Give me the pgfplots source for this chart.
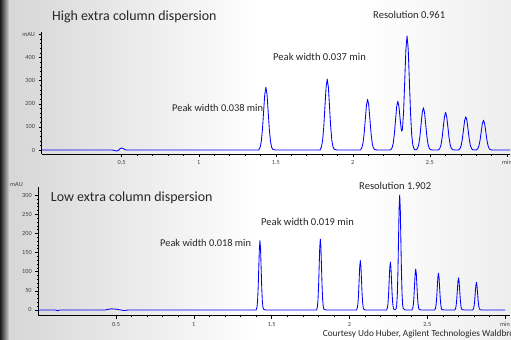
\documentclass[border=0pt]{standalone}
\usepackage{pgfplots}
\pgfplotsset{compat=1.18}
\usepackage{fontspec}
\setmainfont{Carlito}
\begin{document}
\begin{tikzpicture}[x=1bp,y=1bp]
\useasboundingbox (0,0) rectangle (511,339);
\fill[white] (0,0) rectangle (511,339);
\shade[left color=black!16,right color=white] (8,0) rectangle (260,339);
\shade[left color=white,right color=black!7] (360,0) rectangle (511,339);
\shade[left color=black!90,right color=black!18] (0,0) rectangle (9,339);

\pgfplotsset{
  chrom/.style={
    scale only axis,
    axis lines=left,
    axis line style={-,black,line width=0.6pt},
    tick align=outside,
    major tick length=3bp,
    minor tick length=1.6bp,
    every tick/.style={black,line width=0.4pt},
    tick label style={font=\fontsize{6.3}{7}\selectfont,text=black!75},
    /pgf/number format/assume math mode=true,
    xtick={0.5,1,1.5,2,2.5,3},
    xticklabels={0.5,1,1.5,2,2.5,min},
    minor x tick num=4,
    clip=false,
  },
  sig/.style={blue,line width=0.85pt,line join=round},
}

% ---------------- top panel ----------------
\begin{axis}[chrom,
  at={(41.5bp,185bp)},anchor=south west,
  width=468.5bp,height=122bp,
  xmin=-0.02,xmax=3.02,ymin=-17,ymax=510,
  ytick={0,100,200,300,400,500},
  yticklabels={0,100,200,300,400,mAU},
  minor y tick num=4,
]
\addplot[sig] coordinates {
(-0.02,0) (0.20,0.5) (0.44,0) (0.46,-3) (0.47,-4) (0.48,-1) (0.49,6) (0.50,9) (0.51,7) (0.52,2) (0.535,0) (0.8,0.5) (1.1,0) (1.391,0)
(1.391,3.0) (1.3985,11.9) (1.406,36.7) (1.4135,88.0) (1.421,164.4) (1.4285,239.2) (1.436,271) (1.4435,239.2) (1.451,164.4) (1.4585,88.0) (1.466,36.7) (1.4735,11.9) (1.481,3.0)
(1.5,0) (1.789,0)
(1.789,3.4) (1.7965,13.5) (1.804,41.5) (1.8115,99.7) (1.819,186.2) (1.8265,270.9) (1.834,307) (1.8415,270.9) (1.849,186.2) (1.8565,99.7) (1.864,41.5) (1.8715,13.5) (1.879,3.4)
(1.9,0) (2.045,0)
(2.051,2.4) (2.0585,9.6) (2.066,29.6) (2.0735,71.1) (2.081,132.8) (2.0885,193.3) (2.096,219) (2.1035,193.3) (2.111,132.8) (2.1185,71.1) (2.126,29.6) (2.1335,9.6) (2.141,2.4)
(2.16,0) (2.24,0)
(2.247,2.3) (2.2545,9.3) (2.262,28.5) (2.2695,68.5) (2.277,128.0) (2.2845,186.2) (2.292,211.2) (2.2995,187.3) (2.307,133.5) (2.3145,88) (2.318,82) (2.322,90) (2.3295,165) (2.337,301.3) (2.3445,435.6) (2.352,493) (2.3595,435.1) (2.367,299.0) (2.3745,160.1) (2.382,66.7) (2.3895,21.6) (2.397,5.5) (2.4045,1.1)
(2.413,2.0) (2.4205,8.0) (2.428,24.8) (2.4355,59.4) (2.443,111.0) (2.4505,161.5) (2.458,183) (2.4655,161.5) (2.473,111.0) (2.4805,59.4) (2.488,24.8) (2.4955,8.0) (2.503,2.0)
(2.52,0) (2.55,0)
(2.557,1.8) (2.5645,7.2) (2.572,22.1) (2.5795,52.9) (2.587,98.9) (2.5945,143.8) (2.602,163) (2.6095,143.8) (2.617,98.9) (2.6245,52.9) (2.632,22.1) (2.6395,7.2) (2.647,1.8)
(2.665,0) (2.682,0)
(2.688,1.6) (2.6955,6.3) (2.703,19.5) (2.7105,46.8) (2.718,87.3) (2.7255,127.1) (2.733,144) (2.7405,127.1) (2.748,87.3) (2.7555,46.8) (2.763,19.5) (2.7705,6.3) (2.778,1.6)
(2.795,0)
(2.803,1.4) (2.8105,5.7) (2.818,17.5) (2.8255,41.9) (2.833,78.2) (2.8405,113.8) (2.848,129) (2.8555,113.8) (2.863,78.2) (2.8705,41.9) (2.878,17.5) (2.8855,5.7) (2.893,1.4)
(2.91,0) (3.02,0)
};
\end{axis}

% ---------------- bottom panel ----------------
\begin{axis}[chrom,
  at={(38.2bp,23.3bp)},anchor=south west,
  width=471.5bp,height=128.3bp,
  xmin=0,xmax=3.03,ymin=-15,ymax=320,
  ytick={0,50,100,150,200,250,300},
  minor y tick num=4,
]
\addplot[sig] coordinates {
(0,0) (0.11,0) (0.125,-2) (0.14,0) (0.43,0) (0.45,1.5) (0.47,3) (0.50,2) (0.53,0) (0.55,-1.5) (0.58,0) (1.0,0) (1.40,0)
(1.4022,2.0) (1.406,7.9) (1.4098,24.5) (1.4136,58.8) (1.4174,109.8) (1.4212,159.7) (1.425,181) (1.4288,159.7) (1.4326,109.8) (1.4364,58.8) (1.4402,24.5) (1.444,7.9) (1.4478,2.0)
(1.46,0) (1.788,0)
(1.7902,2.1) (1.794,8.1) (1.7978,25.0) (1.8016,60.1) (1.8054,112.2) (1.8092,163.3) (1.813,185) (1.8168,163.3) (1.8206,112.2) (1.8244,60.1) (1.8282,25.0) (1.832,8.1) (1.8358,2.1)
(1.85,0) (2.045,0)
(2.0472,1.4) (2.051,5.7) (2.0548,17.5) (2.0586,41.9) (2.0624,78.2) (2.0662,113.8) (2.070,129) (2.0738,113.8) (2.0776,78.2) (2.0814,41.9) (2.0852,17.5) (2.089,5.7) (2.0928,1.4)
(2.105,0) (2.238,0)
(2.2402,1.4) (2.244,5.5) (2.2478,16.9) (2.2516,40.6) (2.2554,75.8) (2.2592,110.3) (2.263,125) (2.2668,110.3) (2.2706,75.8) (2.2744,40.6) (2.2782,16.9) (2.282,5.5) (2.2858,1.4)
(2.293,0.3)
(2.3002,3.3) (2.304,13.2) (2.3078,40.6) (2.3116,97.4) (2.3154,182.0) (2.3192,264.8) (2.323,300) (2.3268,264.8) (2.3306,182.0) (2.3344,97.4) (2.3382,40.6) (2.342,13.2) (2.3458,3.3)
(2.36,0) (2.40,0)
(2.4032,1.2) (2.407,4.7) (2.4108,14.5) (2.4146,34.7) (2.4184,64.9) (2.4222,94.4) (2.426,107) (2.4298,94.4) (2.4336,64.9) (2.4374,34.7) (2.4412,14.5) (2.445,4.7) (2.4488,1.2)
(2.46,0) (2.547,0)
(2.5492,1.1) (2.553,4.2) (2.5568,13.0) (2.5606,31.2) (2.5644,58.2) (2.5682,84.7) (2.572,96) (2.5758,84.7) (2.5796,58.2) (2.5834,31.2) (2.5872,13.0) (2.591,4.2) (2.5948,1.1)
(2.61,0) (2.676,0)
(2.6782,0.9) (2.682,3.7) (2.6858,11.4) (2.6896,27.3) (2.6934,50.9) (2.6972,74.1) (2.701,84) (2.7048,74.1) (2.7086,50.9) (2.7124,27.3) (2.7162,11.4) (2.72,3.7) (2.7238,0.9)
(2.74,0) (2.791,0)
(2.7932,0.8) (2.797,3.2) (2.8008,9.7) (2.8046,23.4) (2.8084,43.7) (2.8122,63.5) (2.816,72) (2.8198,63.5) (2.8236,43.7) (2.8274,23.4) (2.8312,9.7) (2.835,3.2) (2.8388,0.8)
(2.85,0) (3.0,0)
};
\end{axis}

% ---------------- annotations ----------------
\begin{scope}[every node/.style={inner sep=0pt,text=black!85}]
\node[anchor=west,font=\fontsize{14}{16}\selectfont] at (52,322) {High extra column dispersion};
\node[anchor=west,font=\fontsize{10.6}{12}\selectfont] at (373,324) {Resolution 0.961};
\node[anchor=west,font=\fontsize{10.6}{12}\selectfont] at (273,282) {Peak width 0.037 min};
\node[anchor=west,font=\fontsize{10.4}{12}\selectfont] at (172,231) {Peak width 0.038 min};
\node[anchor=west,font=\fontsize{14}{16}\selectfont] at (50.7,141) {Low extra column dispersion};
\node[anchor=west,font=\fontsize{10.6}{12}\selectfont] at (359,153) {Resolution 1.902};
\node[anchor=west,font=\fontsize{10.6}{12}\selectfont] at (261,117) {Peak width 0.019 min};
\node[anchor=west,font=\fontsize{10.4}{12}\selectfont] at (160,96) {Peak width 0.018 min};
\node[anchor=west,font=\fontsize{6.3}{7}\selectfont,text=black!75] at (10,154) {mAU};
\node[anchor=west,font=\fontsize{9.3}{10}\selectfont] at (322.7,5) {Courtesy Udo Huber, Agilent Technologies Waldbronn};
\end{scope}
\end{tikzpicture}
\end{document}
